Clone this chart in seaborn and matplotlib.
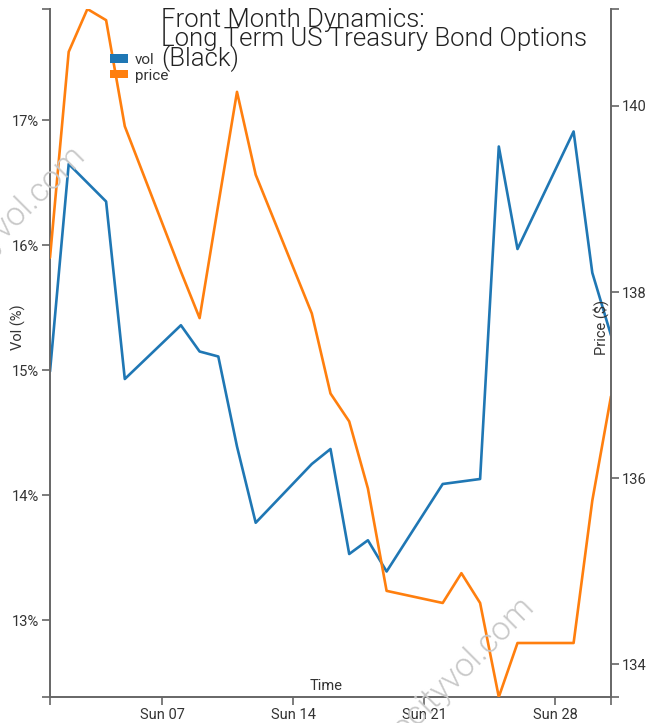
import numpy as np
import pandas as pd
import matplotlib
matplotlib.use("Agg")
import matplotlib.pyplot as plt
import matplotlib.dates as mdates
from matplotlib.patches import Patch
from matplotlib.ticker import FuncFormatter
import seaborn as sns

# datos (dias habiles de enero 2024)
dates = pd.to_datetime([
    "2024-01-01", "2024-01-02", "2024-01-03", "2024-01-04", "2024-01-05",
    "2024-01-08", "2024-01-09", "2024-01-10", "2024-01-11", "2024-01-12",
    "2024-01-15", "2024-01-16", "2024-01-17", "2024-01-18", "2024-01-19",
    "2024-01-22", "2024-01-23", "2024-01-24", "2024-01-25", "2024-01-26",
    "2024-01-29", "2024-01-30", "2024-01-31",
])
vol = [14.99, 16.65, 16.50, 16.35, 14.93,
       15.36, 15.15, 15.11, 14.39, 13.78,
       14.25, 14.37, 13.53, 13.64, 13.39,
       14.09, 14.11, 14.13, 16.79, 15.97,
       16.91, 15.78, 15.28]
price = [138.37, 140.58, 141.04, 140.92, 139.78,
         138.22, 137.72, 138.94, 140.15, 139.26,
         137.77, 136.91, 136.61, 135.89, 134.79,
         134.66, 134.98, 134.66, 133.65, 134.23,
         134.23, 135.76, 136.88]

vol_ticks = [13, 14, 15, 16, 17]
price_ticks = [134, 136, 138, 140]
series_names = ["vol", "price"]
title = "Front Month Dynamics:\nLong Term US Treasury Bond Options\n(Black)"
watermark = "velocityvol.com"

blue = "#1f77b4"
orange = "#ff7f0e"
axis_col = "#666666"
text_col = "#333333"

sns.set_theme(style="white")
plt.rcParams['font.family'] = ['Roboto', 'DejaVu Sans']

W, H = 653, 723
fig = plt.figure(figsize=(W / 100, H / 100), dpi=100)
ax = fig.add_axes([50 / W, 26 / H, 561 / W, 688 / H])
ax2 = ax.twinx()

df = pd.DataFrame({"date": dates, "vol": vol, "price": price})
sns.lineplot(data=df, x="date", y="vol", ax=ax, color=blue, lw=1.9)
sns.lineplot(data=df, x="date", y="price", ax=ax2, color=orange, lw=1.9)

ax.set_xlim(dates[0], dates[-1])
ax.set_ylim(12.386, 17.89)
ax2.set_ylim(min(price), max(price))

ax.set_xlabel("")
ax.set_ylabel("")
ax2.set_ylabel("")

ax.xaxis.set_major_locator(mdates.WeekdayLocator(byweekday=mdates.SU))
ax.xaxis.set_major_formatter(mdates.DateFormatter("%a %d"))
ax.set_yticks(vol_ticks)
ax.yaxis.set_major_formatter(FuncFormatter(lambda v, _: f"{v:.0f}%"))
ax2.set_yticks(price_ticks)

# ticks en los extremos (estilo d3)
ax.set_xticks(ax.get_xlim(), minor=True)
ax.set_yticks(ax.get_ylim(), minor=True)
ax2.set_yticks(ax2.get_ylim(), minor=True)

for a in (ax, ax2):
    a.tick_params(which="both", direction="out", length=6, width=1.2,
                  color=axis_col, labelcolor=text_col, labelsize=10.5, pad=2)
    for s in a.spines.values():
        s.set_color(axis_col)
        s.set_linewidth(1.4)
    a.spines["top"].set_visible(False)
ax.spines["right"].set_visible(False)
ax2.spines["left"].set_visible(False)
ax2.spines["bottom"].set_visible(False)
ax.tick_params(axis="y", which="both", left=True)
ax.tick_params(axis="x", which="both", bottom=True)
ax2.tick_params(axis="y", which="both", right=True)

fig.text(18 / W, 1 - 327 / H, "Vol (%)", rotation=90, ha="center", va="center",
         fontsize=10.5, color=text_col)
fig.text(601 / W, 1 - 327 / H, "Price ($)", rotation=90, ha="center", va="center",
         fontsize=10.5, color=text_col)
fig.text(326 / W, 1 - 686 / H, "Time", ha="center", va="center",
         fontsize=10.5, color=text_col)

fig.text(161 / W, 1 - 8 / H, title, ha="left", va="top", fontsize=18.5,
         fontweight=300, color="#222222", linespacing=0.72)

handles = [Patch(facecolor=blue, edgecolor="none"), Patch(facecolor=orange, edgecolor="none")]
fig.legend(handles, series_names, loc="upper left", bbox_to_anchor=(110 / W, 1 - 53 / H),
           frameon=False, fontsize=11, handlelength=1.15, handleheight=0.45,
           handletextpad=0.5, labelspacing=0.1, borderpad=0, borderaxespad=0,
           labelcolor=text_col)

# marca de agua
for xe, ye in [(87, 158), (536, 609)]:
    fig.text(xe / W, 1 - ye / H, watermark, rotation=45, rotation_mode="anchor",
             ha="right", va="baseline", fontsize=24, color="#c8c8c8",
             fontweight=300, zorder=0)

fig.savefig("out.png", dpi=100)
